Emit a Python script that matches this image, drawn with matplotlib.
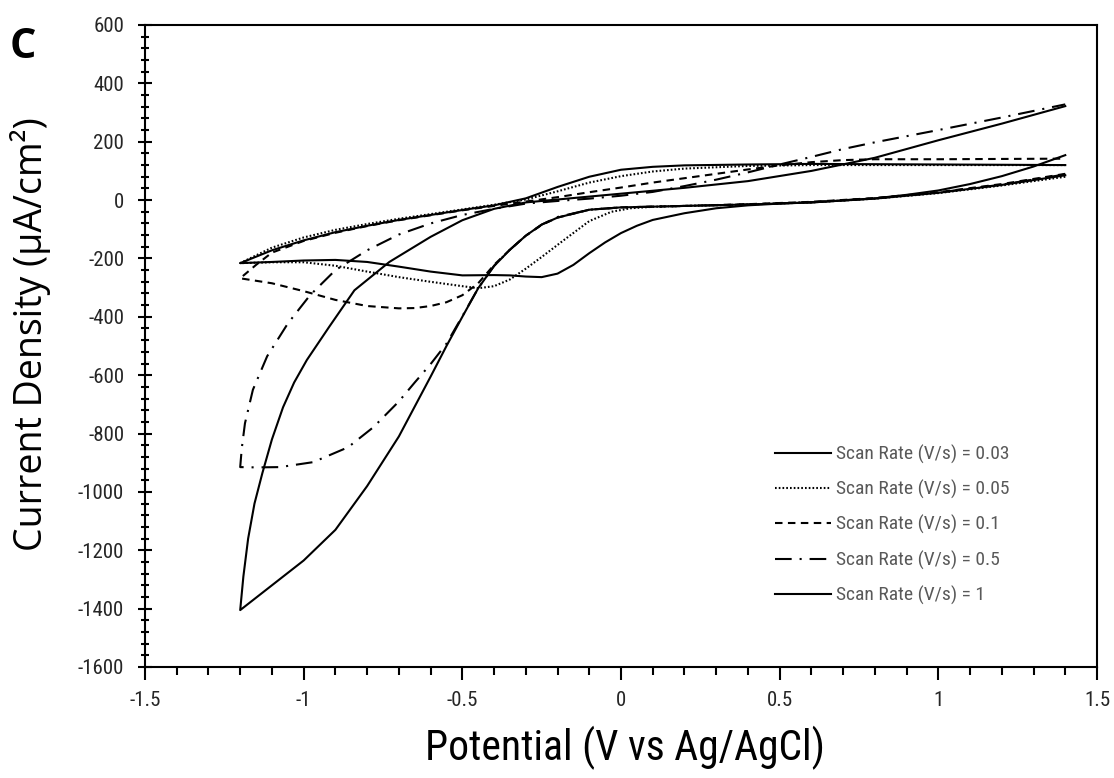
import matplotlib
matplotlib.use("Agg")
import matplotlib.pyplot as plt
from matplotlib.ticker import MultipleLocator
from matplotlib import font_manager as fm

# ---------------- data (potential V vs Ag/AgCl, current density uA/cm2) ----------------
# 0.03 V/s
v_rev_003 = [1.4, 1.2, 1.0, 0.8, 0.6, 0.5, 0.4, 0.3, 0.2, 0.1, 0.05, 0.0, -0.05, -0.1, -0.15,
             -0.2, -0.25, -0.3, -0.35, -0.4, -0.5, -0.6, -0.7, -0.8, -0.9, -1.0, -1.1, -1.2]
i_rev_003 = [85, 52, 25, 5, -8, -12, -18, -28, -45, -68, -88, -113, -145, -182, -222,
             -252, -264, -262, -258, -257, -258, -245, -228, -212, -205, -207, -212, -216]
v_fwd_003 = [-1.2, -1.1, -1.0, -0.9, -0.8, -0.7, -0.6, -0.5, -0.4, -0.3, -0.2, -0.1, 0.0, 0.1,
             0.2, 0.4, 0.6, 0.8, 1.0, 1.2, 1.4]
i_fwd_003 = [-216, -172, -138, -110, -88, -68, -51, -34, -18, 6, 45, 80, 104, 114,
             119, 122, 124, 123, 122, 121, 120]

# 0.05 V/s
v_rev_005 = [1.4, 1.2, 1.0, 0.8, 0.6, 0.4, 0.2, 0.1, 0.03, -0.03, -0.1, -0.18, -0.25, -0.3,
             -0.35, -0.4, -0.45, -0.5, -0.6, -0.7, -0.8, -0.9, -1.0, -1.1, -1.2]
i_rev_005 = [80, 50, 24, 5, -8, -15, -20, -23, -28, -40, -72, -137, -195, -235,
             -272, -295, -302, -295, -280, -264, -245, -225, -213, -213, -216]
v_fwd_005 = [-1.2, -1.1, -1.0, -0.9, -0.8, -0.7, -0.6, -0.5, -0.4, -0.3, -0.2, -0.1, 0.0, 0.1,
             0.2, 0.4, 0.6, 0.8, 1.0, 1.2, 1.4]
i_fwd_005 = [-216, -163, -128, -102, -82, -64, -48, -32, -16, 2, 30, 60, 82, 98,
             108, 117, 120, 120, 120, 120, 120]

# 0.1 V/s
v_rev_01 = [1.4, 1.2, 1.0, 0.8, 0.6, 0.4, 0.2, 0.0, -0.1, -0.2, -0.25, -0.3, -0.35, -0.4,
            -0.45, -0.5, -0.55, -0.6, -0.65, -0.7, -0.8, -0.9, -1.0, -1.1, -1.2]
i_rev_01 = [90, 55, 27, 7, -6, -14, -20, -25, -33, -60, -85, -122, -170, -222,
            -285, -326, -350, -363, -370, -371, -363, -342, -312, -285, -268]
v_fwd_01 = [-1.2, -1.15, -1.1, -1.0, -0.9, -0.8, -0.7, -0.6, -0.5, -0.4, -0.3, -0.2, -0.1,
            0.0, 0.1, 0.2, 0.3, 0.4, 0.5, 0.6, 0.7, 0.8, 1.0, 1.2, 1.4]
i_fwd_01 = [-268, -222, -180, -140, -112, -89, -69, -52, -35, -20, -5, 10, 27,
            43, 60, 75, 90, 105, 119, 130, 137, 140, 140, 141, 142]

# 0.5 V/s
v_rev_05 = [1.4, 1.2, 1.0, 0.8, 0.6, 0.4, 0.2, 0.0, -0.1, -0.2, -0.25, -0.3, -0.35, -0.4,
            -0.45, -0.5, -0.55, -0.6, -0.65, -0.7, -0.78, -0.86, -0.97, -1.075, -1.15, -1.2]
i_rev_05 = [88, 53, 26, 6, -7, -15, -20, -25, -33, -58, -84, -122, -170, -225,
            -302, -398, -492, -562, -625, -690, -778, -847, -898, -915, -916, -915]
v_fwd_05 = [-1.2, -1.195, -1.185, -1.16, -1.115, -1.05, -0.98, -0.9, -0.8, -0.7, -0.6, -0.5,
            -0.4, -0.3, -0.2, -0.1, 0.0, 0.1, 0.2, 0.3, 0.4, 0.5, 0.6, 0.7, 0.8, 1.0, 1.2, 1.4]
i_fwd_05 = [-915, -850, -765, -650, -535, -423, -326, -240, -172, -118, -80, -51,
            -30, -12, -3, 5, 15, 28, 48, 70, 95, 122, 148, 175, 198, 240, 283, 328]

# 1 V/s
v_rev_1 = [1.4, 1.3, 1.2, 1.1, 1.0, 0.9, 0.8, 0.6, 0.4, 0.2, 0.0, -0.1, -0.2, -0.25, -0.3,
           -0.35, -0.4, -0.45, -0.5, -0.55, -0.6, -0.7, -0.8, -0.9, -1.0, -1.1, -1.2]
i_rev_1 = [154, 115, 82, 55, 33, 18, 6, -8, -15, -20, -25, -33, -60, -84, -122,
           -170, -226, -302, -400, -500, -605, -810, -980, -1130, -1235, -1320, -1405]
v_fwd_1 = [-1.2, -1.19, -1.175, -1.155, -1.13, -1.1, -1.065, -1.03, -0.99, -0.92, -0.84,
           -0.73, -0.6, -0.5, -0.4, -0.3, -0.2, -0.1, 0.0, 0.2, 0.4, 0.6, 0.8, 1.0, 1.2, 1.4]
i_fwd_1 = [-1405, -1290, -1160, -1040, -935, -820, -710, -625, -548, -435, -309,
           -212, -126, -69, -30, -8, 2, 12, 22, 42, 65, 100, 145, 205, 262, 322]

labels = ["Scan Rate (V/s) = 0.03", "Scan Rate (V/s) = 0.05", "Scan Rate (V/s) = 0.1",
          "Scan Rate (V/s) = 0.5", "Scan Rate (V/s) = 1"]
x_ticks = [-1.5, -1, -0.5, 0, 0.5, 1, 1.5]
x_ticklabels = ["-1.5", "-1", "-0.5", "0", "0.5", "1", "1.5"]
y_ticks = list(range(-1600, 601, 200))

# ---------------- fonts ----------------
_names = {f.name for f in fm.fontManager.ttflist}


def pick(*cands):
    for c in cands:
        if c in _names:
            return c
    return "DejaVu Sans"


NARROW = pick("Liberation Sans Narrow", "Roboto Condensed", "Open Sans Condensed", "Lato",
              "Liberation Sans")
WIDE = pick("Open Sans", "Noto Sans", "DejaVu Sans")

# ---------------- figure ----------------
fig = plt.figure(figsize=(11.14, 7.78), dpi=100)
ax = fig.add_axes([145 / 1114, 1 - 667 / 778, (1097 - 145) / 1114, (667 - 25) / 778])

series = [
    (v_rev_003, i_rev_003, v_fwd_003, i_fwd_003, "-"),
    (v_rev_005, i_rev_005, v_fwd_005, i_fwd_005, (0, (0.8, 1.0))),
    (v_rev_01, i_rev_01, v_fwd_01, i_fwd_01, (0, (3.6, 2.6))),
    (v_rev_05, i_rev_05, v_fwd_05, i_fwd_05, (0, (8, 3.8, 1.0, 3.8))),
    (v_rev_1, i_rev_1, v_fwd_1, i_fwd_1, "-"),
]
for (vr, ir, vf, i_f, ls), lab in zip(series, labels):
    ax.plot(vr + vf, ir + i_f, color="black", lw=1.5, linestyle=ls, label=lab,
            solid_joinstyle="round")

ax.set_xlim(-1.5, 1.5)
ax.set_ylim(-1600, 600)
ax.set_xticks(x_ticks)
ax.set_xticklabels(x_ticklabels)
ax.set_yticks(y_ticks)
ax.set_yticklabels([str(t) for t in y_ticks])
ax.xaxis.set_minor_locator(MultipleLocator(0.1))
ax.yaxis.set_minor_locator(MultipleLocator(40))

for s in ax.spines.values():
    s.set_linewidth(1.5)
ax.tick_params(axis="x", which="major", direction="out", length=9, width=1.5, pad=8,
               labelsize=15, labelcolor="#262626", labelfontfamily=NARROW)
ax.tick_params(axis="x", which="minor", direction="out", length=6, width=1.5)
ax.tick_params(axis="y", which="major", direction="inout", length=10, width=1.5, pad=10,
               labelsize=15, labelcolor="#262626", labelfontfamily=NARROW)
ax.tick_params(axis="y", which="minor", direction="inout", length=6, width=1.5)

leg = ax.legend(loc="upper left", bbox_to_anchor=((775 - 145) / 952, (667 - 445) / 642),
                frameon=False, prop={"family": NARROW, "size": 14},
                handlelength=2.9, handletextpad=0.26, labelspacing=0.82, borderpad=0,
                borderaxespad=0)
for t in leg.get_texts():
    t.set_color("#595959")

fig.text(625 / 1114, 1 - 748 / 778, "Potential (V vs Ag/AgCl)", ha="center", va="center",
         fontsize=30, fontfamily=NARROW, color="black")
fig.text(31 / 1114, 1 - 334 / 778, "Current Density (µA/cm²)", ha="center", va="center",
         rotation=90, fontsize=27, fontfamily=WIDE, color="black")
fig.text(23 / 1114, 1 - 48 / 778, "C", ha="center", va="center", fontsize=30,
         fontweight="bold", fontfamily=WIDE, color="black")

fig.savefig("out.png", dpi=100)
